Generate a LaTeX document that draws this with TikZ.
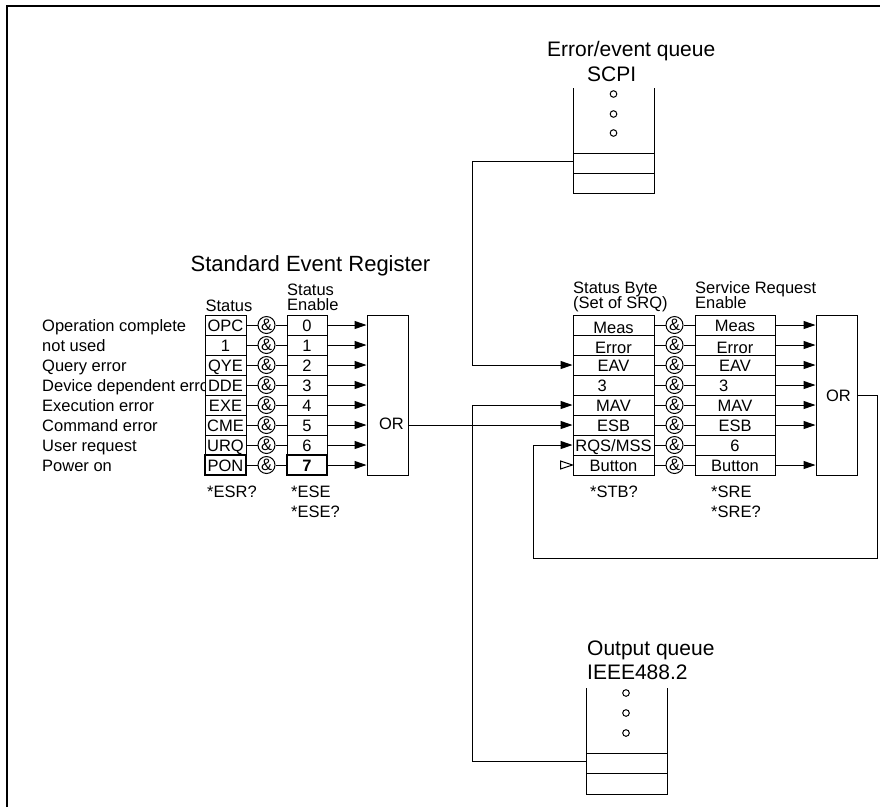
\documentclass[tikz,border=0pt]{standalone}
\usepackage{fontspec}
\setmainfont{Liberation Sans}
\usetikzlibrary{arrows.meta}
\newcommand\rowfont{\fontsize{16.5}{19}\selectfont}
\newcommand\ttlfont{\fontsize{22}{26}\selectfont}
\newcommand\quefont{\fontsize{21}{24}\selectfont}
\tikzset{
  lnk/.style  ={draw=black, line width=1pt},
  arr/.style  ={lnk, -{Triangle[length=12pt,width=8pt]}},
  cell/.style ={lnk, fill=white, minimum height=20pt, inner sep=0pt,
                text height=12pt, text depth=0pt, font=\rowfont},
  stc/.style  ={cell, minimum width=41pt},
  enc/.style  ={cell, minimum width=40pt},
  sbc/.style  ={cell, minimum width=81pt},
  src/.style  ={cell, minimum width=80pt},
  low/.style  ={text height=16pt},
  lft/.style  ={text width=32pt, align=left},
  amp/.style  ={lnk, circle, fill=white, minimum size=17pt, inner sep=0pt, font=\rowfont},
  orbox/.style={lnk, minimum width=41pt, minimum height=160pt, inner sep=0pt},
  txt/.style  ={font=\rowfont, inner sep=0pt, anchor=base west},
  qtxt/.style ={font=\quefont, inner sep=0pt, anchor=base west},
}
\begin{document}
\begin{tikzpicture}[x=1pt,y=-1pt]
  \useasboundingbox (0,0) rectangle (880,807);
  \draw[line width=2.2pt] (7,807) -- (7,6) -- (880,6);
  % standard event register
  \node[font=\ttlfont, inner sep=0pt, anchor=base] (serttl) at (310.5,271) {Standard Event Register};
  \node[txt, anchor=base] (sthd) at (229,311) {Status};
  \node[txt] (enhd1) at (287,295) {Status};
  \node[txt] (enhd2) at (287,310) {Enable};
  \node[txt] (lb0) at (42,331) {Operation complete};
  \node[txt] (lb1) at (42,351) {not used};
  \node[txt] (lb2) at (42,371) {Query error};
  \node[txt] (lb3) at (42,391) {Device dependent error};
  \node[txt] (lb4) at (42,411) {Execution error};
  \node[txt] (lb5) at (42,431) {Command error};
  \node[txt] (lb6) at (42,451) {User request};
  \node[txt] (lb7) at (42,471) {Power on};
  \node[orbox] (orL) at (387.5,395) {};
  \node[txt, anchor=base] (orLt) at (391.5,429) {OR};
  \node[stc] (st0) at (225.5,325) {OPC};
  \node[stc] (st1) at (225.5,345) {1};
  \node[stc] (st2) at (225.5,365) {QYE};
  \node[stc] (st3) at (225.5,385) {DDE};
  \node[stc] (st4) at (225.5,405) {EXE};
  \node[stc] (st5) at (225.5,425) {CME};
  \node[stc] (st6) at (225.5,445) {URQ};
  \node[stc, line width=1.6pt] (st7) at (225.5,465) {PON};
  \node[amp] (am0) at (266.5,325) {\&};
  \node[amp] (am1) at (266.5,345) {\&};
  \node[amp] (am2) at (266.5,365) {\&};
  \node[amp] (am3) at (266.5,385) {\&};
  \node[amp] (am4) at (266.5,405) {\&};
  \node[amp] (am5) at (266.5,425) {\&};
  \node[amp] (am6) at (266.5,445) {\&};
  \node[amp] (am7) at (266.5,465) {\&};
  \node[enc] (en0) at (307,325) {0};
  \node[enc] (en1) at (307,345) {1};
  \node[enc] (en2) at (307,365) {2};
  \node[enc] (en3) at (307,385) {3};
  \node[enc] (en4) at (307,405) {4};
  \node[enc] (en5) at (307,425) {5};
  \node[enc] (en6) at (307,445) {6};
  \node[enc, line width=1.6pt] (en7) at (307,465) {\textbf{7}};
  \draw[lnk] (st0) -- (am0) -- (en0);
  \draw[lnk] (st1) -- (am1) -- (en1);
  \draw[lnk] (st2) -- (am2) -- (en2);
  \draw[lnk] (st3) -- (am3) -- (en3);
  \draw[lnk] (st4) -- (am4) -- (en4);
  \draw[lnk] (st5) -- (am5) -- (en5);
  \draw[lnk] (st6) -- (am6) -- (en6);
  \draw[lnk] (st7) -- (am7) -- (en7);
  \draw[arr] (en0.east) -- (en0.east -| orL.west);
  \draw[arr] (en1.east) -- (en1.east -| orL.west);
  \draw[arr] (en2.east) -- (en2.east -| orL.west);
  \draw[arr] (en3.east) -- (en3.east -| orL.west);
  \draw[arr] (en4.east) -- (en4.east -| orL.west);
  \draw[arr] (en5.east) -- (en5.east -| orL.west);
  \draw[arr] (en6.east) -- (en6.east -| orL.west);
  \draw[arr] (en7.east) -- (en7.east -| orL.west);
  \node[txt] (esr) at (207,497) {*ESR?};
  \node[txt] (ese1) at (291,497) {*ESE};
  \node[txt] (ese2) at (291,517) {*ESE?};
  % status byte and service request enable
  \node[txt] (sbhd1) at (573,293) {Status Byte};
  \node[txt] (sbhd2) at (573,308) {(Set of SRQ)};
  \node[txt] (srhd1) at (695,293) {Service Request};
  \node[txt] (srhd2) at (695,308) {Enable};
  \node[sbc, low] (sb0) at (613.5,325) {Meas};
  \node[sbc, low] (sb1) at (613.5,345) {Error};
  \node[sbc] (sb2) at (613.5,365) {EAV};
  \node[sbc, lft] (sb3) at (613.5,385) {3};
  \node[sbc] (sb4) at (613.5,405) {MAV};
  \node[sbc] (sb5) at (613.5,425) {ESB};
  \node[sbc] (sb6) at (613.5,445) {RQS/MSS};
  \node[sbc] (sb7) at (613.5,465) {Button};
  \node[amp] (ra0) at (674.5,325) {\&};
  \node[amp] (ra1) at (674.5,345) {\&};
  \node[amp] (ra2) at (674.5,365) {\&};
  \node[amp] (ra3) at (674.5,385) {\&};
  \node[amp] (ra4) at (674.5,405) {\&};
  \node[amp] (ra5) at (674.5,425) {\&};
  \node[amp] (ra6) at (674.5,445) {\&};
  \node[amp] (ra7) at (674.5,465) {\&};
  \node[src] (sr0) at (735,325) {Meas};
  \node[src, low] (sr1) at (735,345) {Error};
  \node[src] (sr2) at (735,365) {EAV};
  \node[src, lft] (sr3) at (735,385) {3};
  \node[src] (sr4) at (735,405) {MAV};
  \node[src] (sr5) at (735,425) {ESB};
  \node[src] (sr6) at (735,445) {6};
  \node[src] (sr7) at (735,465) {Button};
  \draw[lnk] (sb0) -- (ra0) -- (sr0);
  \draw[lnk] (sb1) -- (ra1) -- (sr1);
  \draw[lnk] (sb2) -- (ra2) -- (sr2);
  \draw[lnk] (sb3) -- (ra3) -- (sr3);
  \draw[lnk] (sb4) -- (ra4) -- (sr4);
  \draw[lnk] (sb5) -- (ra5) -- (sr5);
  \draw[lnk] (sb6) -- (ra6) -- (sr6);
  \draw[lnk] (sb7) -- (ra7) -- (sr7);
  \node[orbox] (orR) at (836.5,395) {};
  \node[txt, anchor=base] (orRt) at (838.5,401) {OR};
  \draw[arr] (sr0.east) -- (sr0.east -| orR.west);
  \draw[arr] (sr1.east) -- (sr1.east -| orR.west);
  \draw[arr] (sr2.east) -- (sr2.east -| orR.west);
  \draw[arr] (sr3.east) -- (sr3.east -| orR.west);
  \draw[arr] (sr4.east) -- (sr4.east -| orR.west);
  \draw[arr] (sr5.east) -- (sr5.east -| orR.west);
  \draw[arr] (sr7.east) -- (sr7.east -| orR.west);
  \draw[lnk] (sb7.west) -- ++(-12,-4) -- ++(0,8) -- cycle;
  \node[txt] (stb) at (590,497) {*STB?};
  \node[txt] (sre1) at (711,497) {*SRE};
  \node[txt] (sre2) at (711,517) {*SRE?};
  % error/event queue
  \node[qtxt] (eqttl) at (547,56) {Error/event queue};
  \node[qtxt] (eqname) at (587,81) {SCPI};
  \draw[lnk] (573,88) -- (573,193) -- (654,193) -- (654,88);
  \draw[lnk] (573,153) -- (654,153);
  \draw[lnk] (573,173) -- (654,173);
  \draw[lnk] (613.5,94) circle (3.3);
  \draw[lnk] (613.5,114) circle (3.3);
  \draw[lnk] (613.5,133) circle (3.3);
  \coordinate (eqslot) at (573,161);
  % output queue
  \node[qtxt] (oqttl) at (587,655) {Output queue};
  \node[qtxt] (oqname) at (587,679) {IEEE488.2};
  \draw[lnk] (586,688) -- (586,794) -- (667,794) -- (667,688);
  \draw[lnk] (586,753) -- (667,753);
  \draw[lnk] (586,773) -- (667,773);
  \draw[lnk] (626,693) circle (3.3);
  \draw[lnk] (626,713) circle (3.3);
  \draw[lnk] (626,733) circle (3.3);
  \coordinate (oqslot) at (586,761);
  % connections
  \draw[arr] (eqslot) -- ++(-101,0) |- (sb2.west);
  \draw[arr] (oqslot) -- ++(-114,0) |- (sb4.west);
  \draw[arr] (orL.east |- sb5) -- (sb5.west);
  \coordinate (fbk) at (533,558);
  \draw[arr] (orR.east) -- ++(20,0) |- (fbk) |- (sb6.west);
\end{tikzpicture}
\end{document}
